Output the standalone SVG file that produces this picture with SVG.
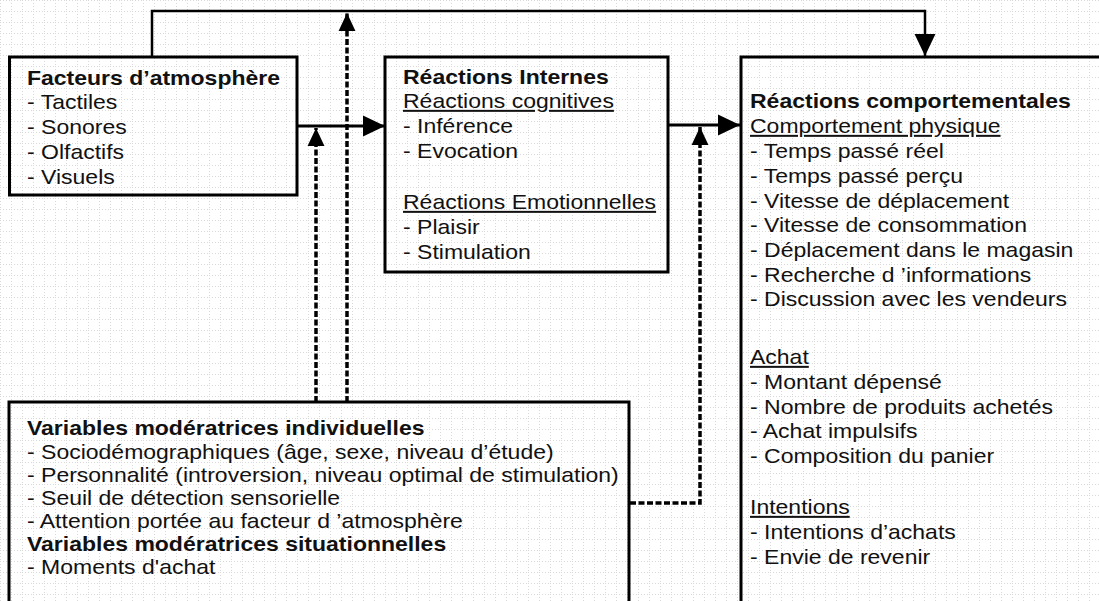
<svg xmlns="http://www.w3.org/2000/svg" width="1099" height="601" viewBox="0 0 1099 601">
<style>
.box{fill:none;stroke:#000;stroke-width:3}
.t{font-family:"Liberation Sans",Arial,sans-serif;font-size:20px;fill:#111}
.b{font-weight:bold}
.u{text-decoration:underline}
.solid{fill:none;stroke:#000;stroke-width:3}
.loop{fill:none;stroke:#000;stroke-width:2.5}
.dash{fill:none;stroke:#000;stroke-width:3.5;stroke-dasharray:6 2.5}
</style>
<defs>
<pattern id="grid" width="11" height="11" patternUnits="userSpaceOnUse">
<path d="M0 0.5H11M0.5 0V11" stroke="#c4c4c4" stroke-width="1" stroke-dasharray="1 2"/>
</pattern>
<marker id="ah" markerUnits="userSpaceOnUse" markerWidth="22" markerHeight="22" viewBox="0 0 20 20" refX="20" refY="10" orient="auto">
<path d="M0 0.5L20 10L0 19.5Z" fill="#000"/>
</marker>
<marker id="ahd" markerUnits="userSpaceOnUse" markerWidth="18" markerHeight="18" viewBox="0 0 16 16" refX="16" refY="8" orient="auto">
<path d="M0 0.5L16 8L0 15.5Z" fill="#000"/>
</marker>
</defs>
<rect width="1099" height="601" fill="#fff"/>
<rect width="1099" height="601" fill="url(#grid)" opacity="0.65"/>

<g id="connectors">
<path class="loop" d="M152 57V11H925V56" marker-end="url(#ah)"/>
<path class="solid" d="M297 126H385" marker-end="url(#ah)"/>
<path class="solid" d="M668 125H740" marker-end="url(#ah)"/>
<path class="dash" d="M316 402V128" marker-end="url(#ahd)"/>
<path class="dash" d="M347 402V13" marker-end="url(#ahd)"/>
<path class="dash" d="M630 503H700V127" marker-end="url(#ahd)"/>
</g>

<g id="facteurs">
<rect class="box" x="9.5" y="57" width="287.5" height="138"/>
<g transform="translate(27 0) scale(1.15 1)">
<text class="t b" x="0" y="85">Facteurs d’atmosphère</text>
<text class="t" x="0" y="109">- Tactiles</text>
<text class="t" x="0" y="134">- Sonores</text>
<text class="t" x="0" y="159">- Olfactifs</text>
<text class="t" x="0" y="184">- Visuels</text>
</g>
</g>

<g id="reactions-internes">
<rect class="box" x="385" y="57" width="283" height="215"/>
<g transform="translate(403 0) scale(1.15 1)">
<text class="t b" x="0" y="84">Réactions Internes</text>
<text class="t u" x="0" y="108">Réactions cognitives</text>
<text class="t" x="0" y="133">- Inférence</text>
<text class="t" x="0" y="158">- Evocation</text>
<text class="t u" x="0" y="209">Réactions Emotionnelles</text>
<text class="t" x="0" y="234">- Plaisir</text>
<text class="t" x="0" y="259">- Stimulation</text>
</g>
</g>

<g id="reactions-comportementales">
<rect class="box" x="741" y="57" width="400" height="600"/>
<g transform="translate(750 0) scale(1.15 1)">
<text class="t b" x="0" y="108">Réactions comportementales</text>
<text class="t u" x="0" y="133">Comportement physique</text>
<text class="t" x="0" y="158">- Temps passé réel</text>
<text class="t" x="0" y="183">- Temps passé perçu</text>
<text class="t" x="0" y="208">- Vitesse de déplacement</text>
<text class="t" x="0" y="232">- Vitesse de consommation</text>
<text class="t" x="0" y="257">- Déplacement dans le magasin</text>
<text class="t" x="0" y="282">- Recherche d ’informations</text>
<text class="t" x="0" y="306">- Discussion avec les vendeurs</text>
<text class="t u" x="0" y="364">Achat</text>
<text class="t" x="0" y="389">- Montant dépensé</text>
<text class="t" x="0" y="414">- Nombre de produits achetés</text>
<text class="t" x="0" y="438">- Achat impulsifs</text>
<text class="t" x="0" y="463">- Composition du panier</text>
<text class="t u" x="0" y="514">Intentions</text>
<text class="t" x="0" y="539">- Intentions d’achats</text>
<text class="t" x="0" y="564">- Envie de revenir</text>
</g>
</g>

<g id="variables-moderatrices">
<rect class="box" x="9" y="402" width="620" height="300"/>
<g transform="translate(27 0) scale(1.15 1)">
<text class="t b" x="0" y="435">Variables modératrices individuelles</text>
<text class="t" x="0" y="459">- Sociodémographiques (âge, sexe, niveau d’étude)</text>
<text class="t" x="0" y="482">- Personnalité (introversion, niveau optimal de stimulation)</text>
<text class="t" x="0" y="505">- Seuil de détection sensorielle</text>
<text class="t" x="0" y="528">- Attention portée au facteur d ’atmosphère</text>
<text class="t b" x="0" y="551">Variables modératrices situationnelles</text>
<text class="t" x="0" y="574">- Moments d'achat</text>
</g>
</g>
</svg>
